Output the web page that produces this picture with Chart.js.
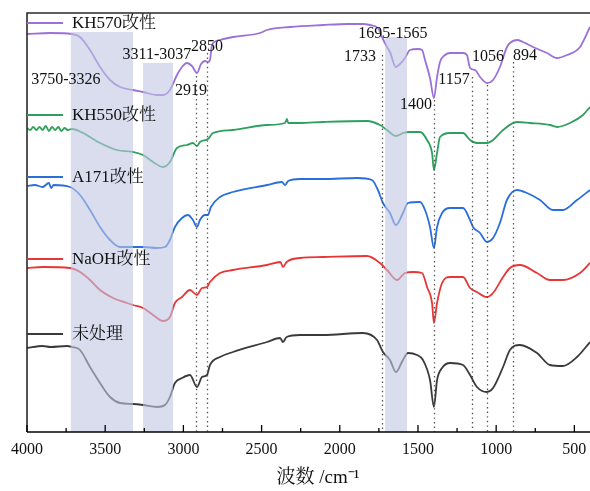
<!DOCTYPE html>
<html><head><meta charset="utf-8">
<script src="https://cdn.jsdelivr.net/npm/chart.js@4.4.1/dist/chart.umd.min.js"></script>
<style>html,body{margin:0;padding:0;background:#fff}#wrap{width:590px;height:491px}</style>
</head><body><div id="wrap"><canvas id="c" width="590" height="491"></canvas></div>
<script>
// ---- data (wavenumber cm-1, offset transmittance in arbitrary units) ----
const seriesNames = ['KH570改性','KH550改性','A171改性','NaOH改性','未处理'];
const kh570 = [[4000,398],[3850,399],[3712,398],[3661,395],[3597,382],[3533,365],[3469,352],[3405,345],[3322,342],[3258,340],[3169,337],[3130,337],[3086,342],[3041,357],[3009,365],[2977,369],[2945,366],[2913,359],[2887,368],[2862,371],[2843,370],[2830,372],[2817,387],[2790,391],[2766,392],[2683,395],[2510,399],[2465,402],[2318,405],[2107,407],[1950,408],[1850,408],[1807,407],[1756,404],[1730,395],[1705,387],[1679,380],[1641,365],[1615,368],[1583,374],[1551,382],[1500,383],[1474,382],[1455,372],[1423,354],[1398,334],[1378,355],[1359,370],[1327,377],[1295,379],[1212,379],[1187,377],[1167,364],[1135,362],[1103,355],[1059,349],[1020,352],[976,365],[931,385],[912,389],[867,392],[829,390],[765,385],[675,379],[611,374],[547,377],[464,385],[400,405]];
const kh550 = [[4000,304],[3980,302],[3960,305],[3940,302],[3920,305],[3900,302],[3880,306],[3860,301],[3840,305],[3820,302],[3800,305],[3780,301],[3760,304],[3740,302],[3712,303],[3642,299],[3533,289],[3425,282],[3322,280],[3258,277],[3194,270],[3130,265],[3086,270],[3041,284],[2977,287],[2939,289],[2913,286],[2894,290],[2843,293],[2811,299],[2683,302],[2465,307],[2350,309],[2338,313],[2330,309],[2254,309],[2107,310],[1826,311],[1743,307],[1698,302],[1641,296],[1596,299],[1551,300],[1487,300],[1442,292],[1410,279],[1398,262],[1378,279],[1359,295],[1295,299],[1212,299],[1167,292],[1123,289],[1059,289],[1020,292],[956,302],[867,310],[784,309],[656,307],[611,305],[528,309],[445,317],[400,325]];
const a171 = [[4000,246],[3950,247],[3900,245],[3860,249],[3846,244],[3830,247],[3725,245],[3661,237],[3597,222],[3533,205],[3469,192],[3405,185],[3322,185],[3258,185],[3169,184],[3118,185],[3086,192],[3054,205],[3009,214],[2971,217],[2939,212],[2913,205],[2894,212],[2862,217],[2843,217],[2824,225],[2766,235],[2683,240],[2465,247],[2370,250],[2350,247],[2330,251],[2254,253],[2107,253],[1890,254],[1794,252],[1756,242],[1724,229],[1679,219],[1641,207],[1596,219],[1564,229],[1487,230],[1455,222],[1423,205],[1398,184],[1378,205],[1346,219],[1295,224],[1212,224],[1167,212],[1148,205],[1103,199],[1059,190],[1020,194],[976,209],[931,232],[867,242],[803,239],[720,232],[637,222],[573,222],[483,232],[400,242]];
const naoh = [[4000,164],[3900,165],[3725,164],[3661,160],[3597,152],[3533,142],[3450,134],[3361,129],[3322,127],[3258,124],[3194,117],[3130,111],[3086,115],[3054,129],[3009,135],[2958,142],[2913,137],[2881,144],[2849,145],[2830,150],[2766,159],[2683,162],[2465,167],[2380,170],[2363,165],[2340,170],[2254,174],[2107,175],[1826,176],[1743,169],[1698,162],[1634,152],[1583,159],[1532,160],[1474,159],[1442,145],[1410,129],[1398,109],[1378,129],[1346,149],[1295,155],[1212,155],[1167,144],[1123,140],[1059,135],[1020,139],[956,155],[912,164],[848,167],[739,159],[656,152],[573,152],[464,159],[400,169]];
const untreated = [[4000,84],[3900,86],[3850,85],[3744,86],[3712,85],[3661,82],[3597,65],[3533,49],[3469,35],[3405,29],[3322,28],[3258,27],[3169,25],[3118,27],[3086,35],[3054,49],[3009,54],[2958,57],[2913,45],[2881,55],[2849,57],[2830,67],[2766,75],[2683,80],[2465,90],[2382,94],[2363,90],[2340,95],[2254,97],[2107,97],[1852,99],[1762,92],[1724,80],[1679,72],[1641,60],[1596,72],[1564,79],[1506,77],[1468,72],[1423,52],[1398,25],[1378,52],[1346,64],[1295,69],[1212,67],[1167,57],[1123,45],[1059,40],[1020,44],[956,65],[912,82],[848,87],[739,79],[656,67],[573,66],[483,75],[400,90]];
const tickValues = [500,1000,1500,2000,2500,3000,3500,4000];
const minorTickValues = [750,1250,1750,2250,2750,3250,3750];
const bands = [[3720,3322],[3258,3066],[1710,1570]];
const bandLabels = ['3750-3326','3311-3037','1695-1565'];
const peakValues = [2919,2850,1733,1400,1157,1056,894];
const xTitle = '波数 /cm⁻¹';

// ---- drawing ----
const FONT = "'Liberation Serif','Times New Roman','Noto Serif CJK SC','Noto Sans CJK SC',serif";
const colors = ['#9b70d8','#2e9f5c','#2a6edc','#e83535','#3a3a3a'];
const allSeries = [kh570,kh550,a171,naoh,untreated];

const deco = {
  id:'deco',
  afterDatasetsDraw(chart){
    const {ctx, chartArea:a, scales:{x,y}} = chart;
    ctx.save();
    // shaded bands (drawn over curves, semi-transparent)
    const bandTops = [400,369,395];
    ctx.fillStyle = 'rgba(192,198,226,0.6)';
    bands.forEach((b,i)=>{
      const x1 = x.getPixelForValue(b[0]), x2 = x.getPixelForValue(b[1]);
      const yt = y.getPixelForValue(bandTops[i]);
      ctx.fillRect(Math.min(x1,x2), yt, Math.abs(x2-x1), a.bottom-yt);
    });
    // dotted peak lines
    const peakTops = [356,379,377,332,355,347,370];
    ctx.strokeStyle = '#555'; ctx.lineWidth = 1.3; ctx.setLineDash([1.4,3.2]);
    peakValues.forEach((p,i)=>{
      const px = Math.round(x.getPixelForValue(p))+0.5;
      ctx.beginPath(); ctx.moveTo(px, y.getPixelForValue(peakTops[i])); ctx.lineTo(px, a.bottom); ctx.stroke();
    });
    ctx.setLineDash([]);
    // annotation texts
    const ann = [
      [bandLabels[0],3751,352],[bandLabels[1],3169,377],[String(peakValues[1]),2849,385],[String(peakValues[0]),2951,341],
      [bandLabels[2],1660,398],[String(peakValues[2]),1871,375],[String(peakValues[3]),1513,327],
      [String(peakValues[4]),1270,352],[String(peakValues[5]),1052,375],[String(peakValues[6]),816,376]
    ];
    ctx.fillStyle = '#111'; ctx.font = '16px '+FONT; ctx.textAlign='center'; ctx.textBaseline='middle';
    ann.forEach(t=>ctx.fillText(t[0], x.getPixelForValue(t[1]), y.getPixelForValue(t[2])));
    // frame: left and top
    ctx.strokeStyle = '#2a2a2a'; ctx.lineWidth = 1.6;
    ctx.beginPath(); ctx.moveTo(a.left, a.bottom); ctx.lineTo(a.left, a.top); ctx.lineTo(a.right, a.top); ctx.stroke();
    // bottom axis
    ctx.strokeStyle = '#000'; ctx.lineWidth = 1.6;
    ctx.beginPath(); ctx.moveTo(a.left, a.bottom); ctx.lineTo(a.right, a.bottom); ctx.stroke();
    // ticks pointing inward
    ctx.lineWidth = 1.3;
    tickValues.forEach(v=>{ const px=x.getPixelForValue(v); ctx.beginPath(); ctx.moveTo(px,a.bottom); ctx.lineTo(px,a.bottom-7); ctx.stroke(); });
    minorTickValues.forEach(v=>{ const px=x.getPixelForValue(v); ctx.beginPath(); ctx.moveTo(px,a.bottom); ctx.lineTo(px,a.bottom-4); ctx.stroke(); });
    // in-plot legend
    const legY = [409,317,255,173,98];
    ctx.font = '17px '+FONT; ctx.textAlign='left'; ctx.textBaseline='middle';
    seriesNames.forEach((n,i)=>{
      const yy = y.getPixelForValue(legY[i]);
      ctx.strokeStyle = colors[i]; ctx.lineWidth = 2;
      ctx.beginPath(); ctx.moveTo(a.left, yy); ctx.lineTo(a.left+36, yy); ctx.stroke();
      ctx.fillStyle = '#111';
      ctx.fillText(n, a.left+45, yy+1);
    });
    ctx.restore();
  }
};

new Chart(document.getElementById('c'), {
  type:'line',
  data:{ datasets: allSeries.map((s,i)=>({
    label: seriesNames[i],
    data: s.map(p=>({x:p[0], y:p[1]})),
    borderColor: colors[i], borderWidth: 1.8, pointRadius: 0,
    cubicInterpolationMode:'monotone', fill:false
  })) },
  options:{
    responsive:false, animation:false, devicePixelRatio:1,
    layout:{ padding:{ left:27, right:0, top:13, bottom:0 } },
    plugins:{ legend:{display:false}, tooltip:{enabled:false} },
    scales:{
      x:{
        type:'linear', reverse:true, min:400, max:4000,
        grid:{ display:false, drawTicks:false },
        border:{ display:false },
        afterBuildTicks(s){ s.ticks = tickValues.map(v=>({value:v})); },
        afterFit(s){ s.height = 59; },
        ticks:{ font:{ family:FONT, size:16 }, color:'#111', padding:8, maxRotation:0, autoSkip:false,
                callback:(v)=>String(v) },
        title:{ display:true, text:'    '+xTitle, font:{ family:FONT, size:19 }, color:'#111', padding:{ top:0, bottom:2 } }
      },
      y:{ display:false, min:0, max:419 }
    }
  },
  plugins:[deco]
});
</script></body></html>
